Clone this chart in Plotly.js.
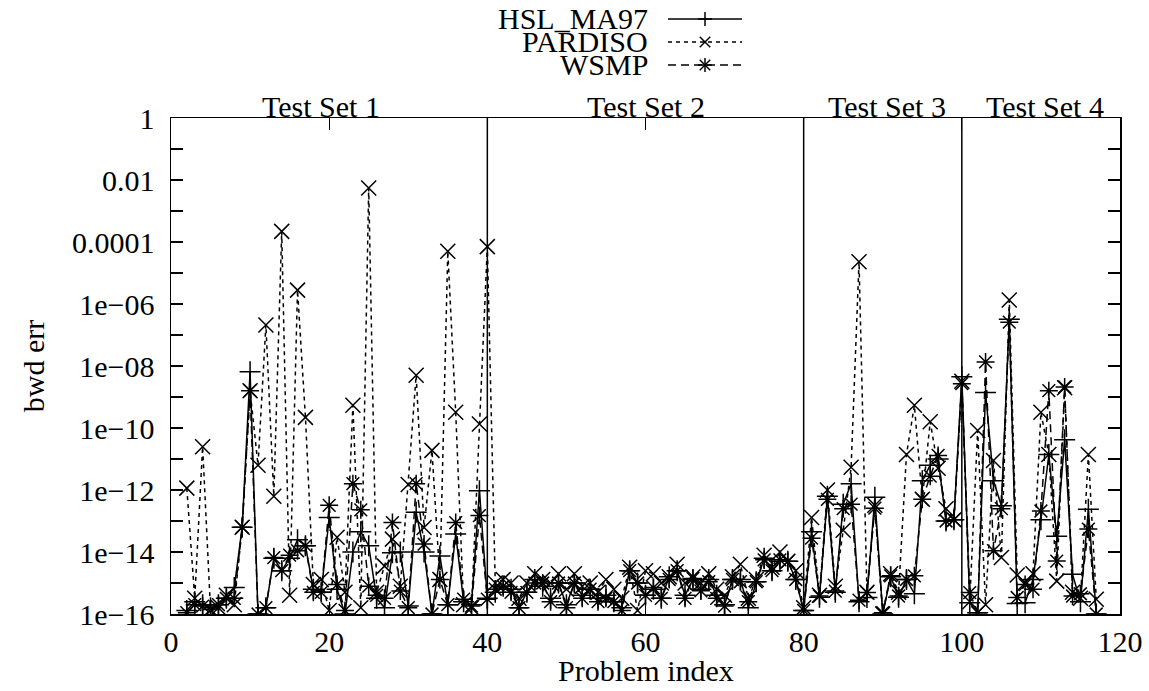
<!DOCTYPE html>
<html>
<head>
<meta charset="utf-8">
<script src="https://cdn.plot.ly/plotly-3.0.1.min.js"></script>
<style>html,body{margin:0;padding:0;background:#fff;}</style>
</head>
<body>
<div id="chart" style="width:1149px;height:691px;"></div>
<script>
// ---------------- data ----------------
const seriesNames = ["HSL_MA97", "PARDISO", "WSMP"];
const setLabels = ["Test Set 1", "Test Set 2", "Test Set 3", "Test Set 4"];
const setBoundaries = [40, 80, 100];
const setLabelCenters = [19, 60, 90.5, 110.5];

const set1Idx = [2,3,4,5,6,7,8,9,10,11,12,13,14,15,16,17,18,19,20,21,22,23,24,25,26,27,28,29,30,31,32,33,34,35,36,37,38,39,40];
const set2Idx = [41,42,43,44,45,46,47,48,49,50,51,52,53,54,55,56,57,58,59,60,61,62,63,64,65,66,67,68,69,70,71,72,73,74,75,76,77,78,79,80];
const set3Idx = [81,82,83,84,85,86,87,88,89,90,91,92,93,94,95,96,97,98,99];
const set4Idx = [100,101,102,103,104,105,106,107,108,109,110,111,112,113,114,115,116,117];

const hslSet1 = [1.3e-16,2.5e-16,2.0e-16,1.6e-16,2.0e-16,3.2e-16,7.1e-16,6.3e-14,6.5e-9,1.0e-16,1.6e-16,6.3e-15,2.5e-15,6.3e-15,2.5e-14,1.6e-14,6.3e-16,5.0e-16,1.3e-13,6.3e-16,1.0e-16,1.0e-14,4.5e-14,1.6e-14,3.2e-16,1.6e-16,9.5e-15,1.0e-14,1.8e-16,1.9e-13,1.0e-14,1.0e-16,7.4e-15,2.0e-16,3.8e-14,2.5e-16,2.0e-16,9.5e-13,3.2e-16];
const pardisoSet1 = [1.15e-12,3.2e-16,2.5e-11,1.3e-16,1.6e-16,4.0e-16,2.0e-16,6.3e-14,1.6e-9,6.3e-12,2.1e-7,6.3e-13,2.2e-4,4.0e-16,2.8e-6,2.2e-10,8.9e-16,1.3e-15,1.3e-16,3.0e-14,5.0e-16,5.4e-10,1.6e-16,5.5e-3,5.0e-16,3.5e-15,2.6e-14,7.9e-16,1.5e-12,5.0e-9,6.2e-14,1.9e-11,1.3e-15,5.0e-5,3.2e-10,2.0e-16,1.6e-16,1.35e-10,7.1e-5];
const wsmpSet1 = [1.1e-16,2.0e-16,1.8e-16,1.4e-16,2.0e-16,3.2e-16,3.2e-16,6.3e-14,1.6e-9,1.0e-16,1.6e-16,6.6e-15,2.5e-15,7.9e-15,1.1e-14,1.6e-14,5.0e-16,5.0e-16,3.2e-13,8.9e-16,1.3e-16,1.6e-12,2.3e-13,7.9e-16,4.0e-16,3.2e-16,8.9e-14,5.5e-16,1.6e-16,1.6e-12,1.8e-14,1.0e-16,1.3e-15,2.0e-16,8.9e-14,3.0e-16,1.8e-16,1.5e-13,3.0e-16];

const hslSet2 = [5.0e-16,7.9e-16,6.3e-16,1.6e-16,5.0e-16,1.3e-15,7.9e-16,3.2e-16,1.0e-15,2.0e-16,1.0e-15,4.0e-16,6.3e-16,3.2e-16,4.0e-16,2.5e-16,1.6e-16,2.5e-15,1.0e-15,4.0e-16,6.3e-16,3.2e-16,1.6e-15,2.5e-15,4.0e-16,1.3e-15,6.3e-16,1.3e-15,4.0e-16,2.0e-16,1.3e-15,1.3e-15,1.6e-16,1.1e-15,6.3e-15,2.5e-15,5.0e-15,5.0e-15,1.3e-15,1.3e-16];
const pardisoSet2 = [1.0e-15,1.3e-15,1.0e-15,3.2e-16,1.0e-15,2.0e-15,1.3e-15,1.0e-15,2.0e-15,6.3e-16,2.0e-15,7.9e-16,1.0e-15,5.0e-16,1.3e-15,6.3e-16,3.2e-16,3.2e-15,1.3e-16,2.5e-15,2.0e-15,1.0e-15,1.6e-15,4.0e-15,1.0e-15,1.6e-15,1.0e-15,2.0e-15,6.3e-16,4.0e-16,1.6e-15,4.0e-15,3.2e-16,1.3e-15,7.9e-15,3.2e-15,1.0e-14,5.0e-15,2.5e-15,1.6e-16];
const wsmpSet2 = [6.3e-16,7.9e-16,5.0e-16,1.6e-16,5.0e-16,1.0e-15,1.0e-15,2.5e-16,1.0e-15,1.6e-16,1.0e-15,3.2e-16,6.3e-16,2.5e-16,3.2e-16,2.5e-16,1.3e-16,2.5e-15,1.0e-15,4.0e-16,7.1e-16,3.2e-16,1.3e-15,2.5e-15,3.2e-16,1.4e-15,5.6e-16,1.1e-15,3.2e-16,1.8e-16,1.3e-15,1.1e-15,2.5e-16,1.1e-15,5.6e-15,2.5e-15,5.6e-15,5.0e-15,1.3e-15,1.3e-16];

const hslSet3 = [4.5e-14,3.5e-16,6.3e-13,5.0e-16,3.5e-13,1.6e-12,2.5e-16,3.4e-16,5.8e-13,1.0e-16,1.6e-15,3.5e-16,1.3e-15,4.5e-16,2.0e-12,6.3e-12,1.0e-11,1.0e-13,1.1e-13];
const pardisoSet3 = [1.3e-13,4.0e-16,1.0e-12,7.9e-16,5.0e-14,5.4e-12,2.3e-5,5.0e-16,3.2e-13,1.0e-16,2.0e-15,5.0e-16,1.4e-11,5.4e-10,5.0e-13,1.6e-10,5.0e-12,2.5e-13,1.1e-13];
const wsmpSet3 = [2.8e-14,3.8e-16,5.0e-13,5.5e-16,2.5e-13,3.5e-13,2.8e-16,4.9e-16,2.6e-13,1.1e-16,1.7e-15,3.8e-16,1.3e-15,1.7e-15,5.0e-13,2.8e-12,1.3e-11,1.0e-13,1.1e-13];

const hslSet4 = [4.5e-9,2.3e-16,1.1e-16,1.4e-9,2.0e-12,3.1e-13,3.2e-7,2.2e-16,2.3e-16,1.3e-15,1.1e-13,1.4e-11,3.2e-14,4.2e-11,1.9e-15,2.5e-16,2.4e-13,1.0e-16];
const pardisoSet4 = [3.2e-9,2.5e-16,8.3e-11,2.0e-16,8.9e-12,6.6e-15,1.35e-6,1.8e-15,1.0e-15,2.0e-15,3.2e-10,1.4e-11,1.15e-15,2.0e-9,5.0e-16,3.2e-16,1.4e-11,3.0e-16];
const wsmpSet4 = [2.7e-9,4.9e-16,1.1e-16,1.35e-8,1.1e-14,2.5e-13,2.6e-7,3.4e-16,8.9e-16,6.3e-16,2.1e-13,1.6e-9,5.1e-15,2.1e-9,3.8e-16,4.5e-16,5.5e-14,1.0e-16];

const yTickVals = [1,1e-1,1e-2,1e-3,1e-4,1e-5,1e-6,1e-7,1e-8,1e-9,1e-10,1e-11,1e-12,1e-13,1e-14,1e-15,1e-16];
const yTickText = ["1","","0.01","","0.0001","","1e\u221206","","1e\u221208","","1e\u221210","","1e\u221212","","1e\u221214","","1e\u221216"];
const xTickVals = [0,20,40,60,80,100,120];

// ---------------- build ----------------
const problemIdx = set1Idx.concat(set2Idx, set3Idx, set4Idx);
const hsl = hslSet1.concat(hslSet2, hslSet3, hslSet4);
const pardiso = pardisoSet1.concat(pardisoSet2, pardisoSet3, pardisoSet4);
const wsmp = wsmpSet1.concat(wsmpSet2, wsmpSet3, wsmpSet4);

const FONT = "Liberation Serif, Times New Roman, serif";
const FS = 30;
const LW = 1.5;
const styles = [
  {symbol: "cross-thin-open", dash: "solid", glyph: ["+"]},
  {symbol: "x-thin-open", dash: "4px,4px", glyph: ["x"]},
  {symbol: "asterisk-open", dash: "8px,5px", glyph: ["+", "x"]}
];
const ys = [hsl, pardiso, wsmp];

const traces = ys.map((y, k) => ({
  type: "scatter", mode: "lines+markers", name: seriesNames[k],
  x: problemIdx, y: y,
  line: {color: "#000", width: LW, dash: styles[k].dash},
  marker: {symbol: styles[k].symbol, size: 15, color: "#000", line: {color: "#000", width: LW}},
  showlegend: false
}));

// plot geometry (pixels)
const L = 171, R = 29, T = 118, B = 77, W = 1149, H = 691;
const pw = W - L - R, ph = H - T - B;
const px2paperX = p => (p - L) / pw;
const px2paperY = p => (H - B - p) / ph;

const shapes = [];
const annotations = [];
setBoundaries.forEach(b => shapes.push({type: "line", xref: "x", yref: "paper", x0: b, x1: b, y0: 0, y1: 1, line: {color: "#000", width: LW}}));
setLabels.forEach((t, k) => annotations.push({text: t, xref: "x", yref: "paper", x: setLabelCenters[k], y: 1, yanchor: "bottom", xanchor: "center", yshift: -7, showarrow: false, font: {family: FONT, size: FS, color: "#000"}}));

// manual legend: text right-aligned, then line sample with its point symbol
const legRows = [19, 42, 65];
const legTextRight = 650, legLineX0 = 668, legLineX1 = 742, legMarkX = 705, mk = 7;
function pline(x0, y0, x1, y1) {
  return {type: "line", xref: "paper", yref: "paper", x0: px2paperX(x0), y0: px2paperY(y0), x1: px2paperX(x1), y1: px2paperY(y1), line: {color: "#000", width: LW}};
}
seriesNames.forEach((n, k) => {
  const yy = legRows[k];
  annotations.push({text: n, xref: "paper", yref: "paper", x: px2paperX(legTextRight), y: px2paperY(yy), xanchor: "right", yanchor: "middle", showarrow: false, font: {family: FONT, size: FS, color: "#000"}});
  shapes.push({type: "line", xref: "paper", yref: "paper", x0: px2paperX(legLineX0), x1: px2paperX(legLineX1), y0: px2paperY(yy), y1: px2paperY(yy), line: {color: "#000", width: LW, dash: styles[k].dash}});
  styles[k].glyph.forEach(g => {
    if (g === "+") {
      shapes.push(pline(legMarkX - mk, yy, legMarkX + mk, yy));
      shapes.push(pline(legMarkX, yy - mk, legMarkX, yy + mk));
    } else {
      const d = mk * 0.75;
      shapes.push(pline(legMarkX - d, yy - d, legMarkX + d, yy + d));
      shapes.push(pline(legMarkX - d, yy + d, legMarkX + d, yy - d));
    }
  });
});
annotations.push({text: "Problem index", xref: "paper", yref: "paper", x: 0.5, y: px2paperY(670), xanchor: "center", yanchor: "middle", showarrow: false, font: {family: FONT, size: FS, color: "#000"}});

const axisCommon = {
  showline: true, linecolor: "#000", linewidth: LW, mirror: "ticks",
  ticks: "inside", ticklen: 12, tickwidth: 1.2, tickcolor: "#000",
  showgrid: false, zeroline: false,
  tickfont: {family: FONT, size: FS, color: "#000"}
};

const layout = {
  width: W, height: H,
  margin: {l: L, r: R, t: T, b: B},
  paper_bgcolor: "#fff", plot_bgcolor: "#fff",
  showlegend: false,
  xaxis: Object.assign({}, axisCommon, {range: [0, 120], tickmode: "array", tickvals: xTickVals, ticktext: xTickVals.map(String)}),
  yaxis: Object.assign({}, axisCommon, {type: "log", range: [-16, 0], tickmode: "array", tickvals: yTickVals, ticktext: yTickText,
    ticklabelstandoff: 9,
    title: {text: "bwd err", font: {family: FONT, size: FS, color: "#000"}, standoff: 18}}),
  shapes: shapes,
  annotations: annotations
};

Plotly.newPlot("chart", traces, layout, {staticPlot: true, displayModeBar: false});
</script>
</body>
</html>
